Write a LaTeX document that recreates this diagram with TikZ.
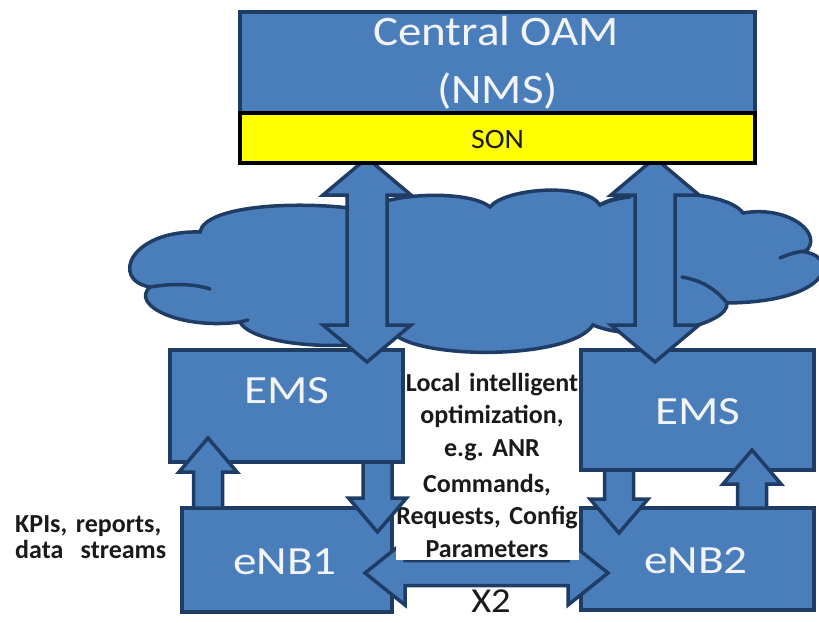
\documentclass[tikz,border=0pt]{standalone}
\usepackage{fontspec}
\usepackage{graphicx}
\setmainfont{Carlito}
\usetikzlibrary{calc}
\definecolor{bfill}{HTML}{4A7EBB}
\definecolor{bline}{HTML}{1F3C64}
\definecolor{txtw}{HTML}{F2F4FA}
\definecolor{sonfill}{HTML}{FFFF00}
\definecolor{dtext}{HTML}{1A1A1A}
\tikzset{
  box/.style={draw=bline, fill=bfill, line width=4pt, rectangle, inner sep=0pt},
  arrowshape/.style={draw=bline, fill=bfill, line width=3.5pt, line join=miter},
  cloudshape/.style={draw=bline, fill=bfill, line width=3.5pt},
  cloudinner/.style={draw=bline, line width=3.5pt, line cap=round},
  lbl/.style={text=txtw, inner sep=0pt, anchor=base},
  note/.style={font=\bfseries\fontsize{26}{32.5}\selectfont, inner sep=0pt, align=center, text=dtext, anchor=base}
}
% single block arrow: from #1 to #2 (tip), shaft half width #3, head half width #4, head length #5
\newcommand{\blockarrow}[5]{%
  \draw[arrowshape] ($(#1)!#3!90:(#2)$) -- ($(#2)!#5!(#1)!#3!90:(#2)$) -- ($(#2)!#5!(#1)!#4!90:(#2)$) -- (#2)
    -- ($(#2)!#5!(#1)!#4!-90:(#2)$) -- ($(#2)!#5!(#1)!#3!-90:(#2)$) -- ($(#1)!#3!-90:(#2)$) -- cycle;}
% double block arrow between #1 and #2
\newcommand{\dblockarrow}[5]{%
  \draw[arrowshape] (#1) -- ($(#1)!#5!(#2)!#4!90:(#2)$) -- ($(#1)!#5!(#2)!#3!90:(#2)$) -- ($(#2)!#5!(#1)!#3!90:(#2)$)
    -- ($(#2)!#5!(#1)!#4!90:(#2)$) -- (#2) -- ($(#2)!#5!(#1)!#4!-90:(#2)$) -- ($(#2)!#5!(#1)!#3!-90:(#2)$)
    -- ($(#1)!#5!(#2)!#3!-90:(#2)$) -- ($(#1)!#5!(#2)!#4!-90:(#2)$) -- cycle;}
\begin{document}
\begin{tikzpicture}[x=1pt,y=-1pt]
\useasboundingbox (0,0) rectangle (819,622);
% cloud
\path[cloudshape] (200,232) .. controls (205,205) and (300,200) .. (365,210)
  .. controls (390,192) and (470,190) .. (490,207)
  .. controls (505,188) and (585,182) .. (600,205)
  .. controls (625,188) and (725,188) .. (743,213)
  .. controls (790,205) and (825,235) .. (805,252)
  .. controls (840,258) and (830,302) .. (727,303)
  .. controls (730,325) and (640,345) .. (593,325)
  .. controls (570,360) and (420,360) .. (393,333)
  .. controls (380,352) and (255,350) .. (240,322)
  .. controls (180,330) and (130,305) .. (150,287)
  .. controls (110,280) and (130,230) .. (200,232) -- cycle;
\path[cloudinner] (150,287) .. controls (175,283) and (195,284) .. (210,289);
\path[cloudinner] (805,251) .. controls (795,252) and (787,255) .. (780,258);
\path[cloudinner] (727,303) .. controls (715,288) and (700,280) .. (682,277);
\path[cloudinner] (600,205) .. controls (610,200) and (620,198) .. (630,197);
\path[cloudinner] (240,322) -- (248,320);
% EMS boxes
\node[box, minimum width=233pt, minimum height=112pt] (ems1) at (286.5,406) {};
\node[box, minimum width=233pt, minimum height=120pt] (ems2) at (697.5,410) {};
% big double arrows
\coordinate (b1t) at (367,158);
\coordinate (b1b) at (367,362);
\coordinate (b2t) at (655,158);
\coordinate (b2b) at (655,362);
\dblockarrow{b1t}{b1b}{20pt}{44pt}{37pt}
\dblockarrow{b2t}{b2b}{20pt}{44pt}{37pt}
% central OAM
\node[box, minimum width=515pt, minimum height=101pt] (nms) at (497.5,62.5) {};
\node[draw=black, fill=sonfill, line width=4.5pt, minimum width=515pt, minimum height=50pt, inner sep=0pt] (son) at (497.5,138) {};
\node[lbl, font=\fontsize{42}{50}\selectfont] (nmst1) at (496,45) {\scalebox{1.12}[1]{Central OAM}};
\node[lbl, font=\fontsize{42}{50}\selectfont] (nmst2) at (497.5,103) {\scalebox{1.12}[1]{(NMS)}};
\node[inner sep=0pt, anchor=base, text=dtext, font=\fontsize{28}{30}\selectfont] (sont) at (497.5,148) {\scalebox{1.07}[1]{SON}};
% eNB boxes
\node[box, minimum width=210pt, minimum height=104pt] (enb1) at (287,560) {};
\node[box, minimum width=233pt, minimum height=102pt] (enb2) at (697.5,559) {};
% X2 arrow
\coordinate (x2l) at (365,573);
\coordinate (x2r) at (608,573);
\dblockarrow{x2l}{x2r}{12.5pt}{32pt}{40pt}
% labels in boxes
\node[lbl, font=\fontsize{40}{42}\selectfont] (emst1) at (287,403) {\scalebox{1.18}[1]{EMS}};
\node[lbl, font=\fontsize{40}{42}\selectfont] (emst2) at (698,424) {\scalebox{1.18}[1]{EMS}};
\node[lbl, font=\fontsize{40}{42}\selectfont] (enbt1) at (285,574) {\scalebox{1.18}[1]{eNB1}};
\node[lbl, font=\fontsize{40}{42}\selectfont] (enbt2) at (696,573) {\scalebox{1.18}[1]{eNB2}};
% middle notes
\node[note, text width=176pt] (loc) at (492,391) {Local intelligent\\optimization,\\e.g.\ ANR};
\node[note, fill=white, text width=183pt, inner xsep=0pt, inner ysep=3pt] (cmd) at (487,492) {Commands,\\Requests, Config\\Parameters};
% small arrows
\coordinate (u1s) at (208,508); \coordinate (u1e) at (208,438);
\coordinate (d1s) at (377.5,462); \coordinate (d1e) at (377.5,532);
\coordinate (d2s) at (619,470); \coordinate (d2e) at (619,533);
\coordinate (u2s) at (752,508); \coordinate (u2e) at (752,450);
\blockarrow{u1s}{u1e}{14.5pt}{29pt}{34pt}
\blockarrow{d1s}{d1e}{14.5pt}{29pt}{34pt}
\blockarrow{d2s}{d2e}{14.5pt}{29pt}{34pt}
\blockarrow{u2s}{u2e}{14.5pt}{29pt}{34pt}
% left note
\node[note, align=left, text width=160pt, anchor=base west, font=\bfseries\fontsize{26}{26.5}\selectfont] (kpi) at (15,532) {KPIs, reports,\\data\ \ streams};
% X2 label
\node[inner sep=0pt, anchor=base, text=dtext, font=\fontsize{35}{40}\selectfont] (x2t) at (491,612) {\scalebox{1.1}[1]{X2}};
\end{tikzpicture}
\end{document}
